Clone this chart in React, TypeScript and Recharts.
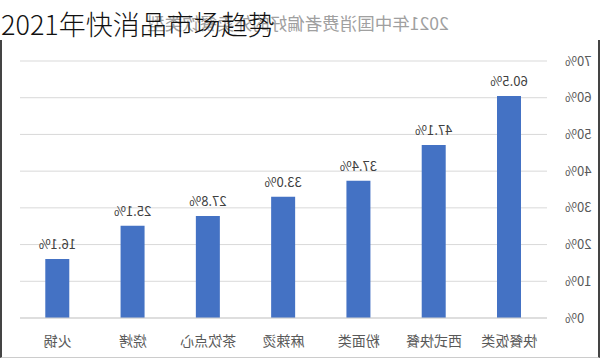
import React from "react";
import {
  BarChart,
  Bar,
  XAxis,
  YAxis,
  CartesianGrid,
  LabelList,
} from "recharts";

// 品类（原图为镜像，这里按原顺序绘制后整体水平翻转）
const categories = ["快餐饭类", "西式快餐", "粉面类", "麻辣烫", "茶饮点心", "烧烤", "火锅"];
const shares = [60.5, 47.1, 37.4, 33.0, 27.8, 25.1, 16.1];
const yTicks = [0, 10, 20, 30, 40, 50, 60, 70];

const chartTitle = "2021年中国消费者偏好的外卖餐饮类型";
const overlayTitle = "2021年快消品市场趋势";

const data = categories.map((name, i) => ({ name, value: shares[i] }));

const FONT = '"Noto Sans CJK SC", "Noto Sans", sans-serif';

const App: React.FC = () => {
  return (
    <div
      style={{
        position: "absolute",
        left: 0,
        top: 0,
        width: 600,
        height: 359,
        background: "#fff",
        overflow: "hidden",
        fontFamily: FONT,
      }}
    >
      {/* 镜像的图表 */}
      <div
        style={{
          position: "absolute",
          left: 0,
          top: 0,
          width: 600,
          height: 359,
          transform: "scaleX(-1)",
        }}
      >
        <div
          style={{
            position: "absolute",
            top: 12,
            left: 2,
            width: 600,
            textAlign: "center",
            fontSize: 17.5,
            color: "#a0a0a0",
            lineHeight: "22px",
            whiteSpace: "nowrap",
          }}
        >
          {chartTitle}
        </div>
        <BarChart
          width={600}
          height={359}
          data={data}
          margin={{ top: 61, right: 20, bottom: 11, left: 0 }}
          barSize={24}
        >
          <CartesianGrid vertical={false} stroke="#d9d9d9" />
          <XAxis
            dataKey="name"
            axisLine={{ stroke: "#d0d0d0" }}
            tickLine={false}
            tickMargin={12}
            height={30}
            tick={{ fontSize: 14, fill: "#595959", fontFamily: FONT }}
            interval={0}
          />
          <YAxis
            domain={[0, 70]}
            ticks={yTicks}
            width={53}
            axisLine={false}
            tickLine={false}
            tickMargin={12}
            tickFormatter={(v: number) => `${v}%`}
            tick={{ fontSize: 13, fill: "#595959", fontFamily: FONT }}
          />
          <Bar dataKey="value" fill="#4472C4" isAnimationActive={false}>
            <LabelList
              dataKey="value"
              position="top"
              offset={10}
              formatter={(v: number) => `${v.toFixed(1)}%`}
              style={{ fontSize: 13, fill: "#404040", fontFamily: FONT }}
            />
          </Bar>
        </BarChart>
      </div>

      {/* 边框 */}
      <div
        style={{
          position: "absolute",
          left: 0,
          top: 40,
          width: 600,
          height: 318,
          boxSizing: "border-box",
          borderLeft: "2px solid #444",
          borderRight: "2px solid #444",
          borderBottom: "1px solid #ccc",
          pointerEvents: "none",
        }}
      />

      {/* 叠加标题 */}
      <div
        style={{
          position: "absolute",
          left: 1,
          top: 9,
          fontSize: 27,
          lineHeight: "30px",
          fontWeight: 300,
          color: "#111",
          whiteSpace: "nowrap",
        }}
      >
        {overlayTitle}
      </div>
    </div>
  );
};

export default App;
